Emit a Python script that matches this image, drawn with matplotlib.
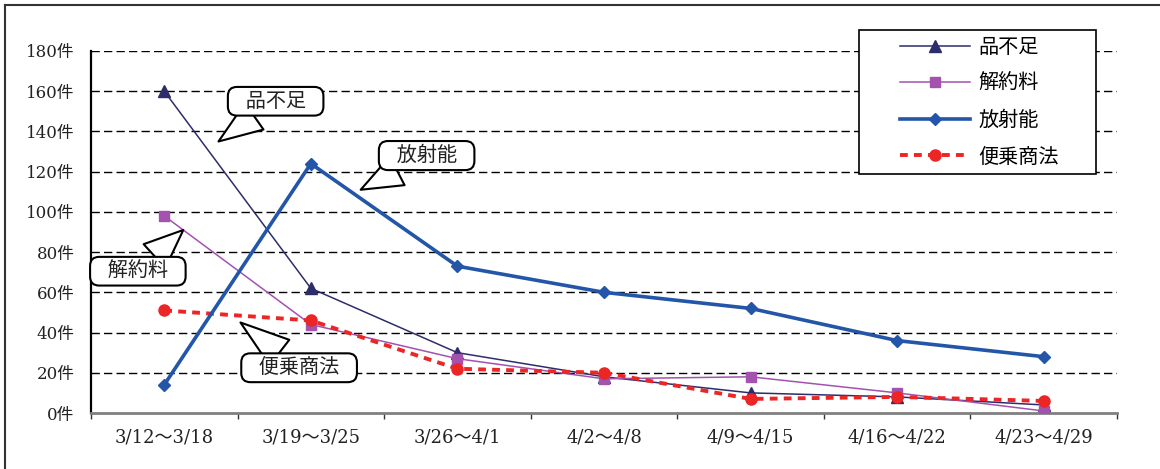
import matplotlib
matplotlib.use('Agg')
import matplotlib.pyplot as plt
from matplotlib.lines import Line2D
from matplotlib.patches import Rectangle

plt.rcParams['font.family'] = ['DejaVu Serif', 'Noto Sans CJK JP']

weeks = ['3/12～3/18', '3/19～3/25', '3/26～4/1', '4/2～4/8',
         '4/9～4/15', '4/16～4/22', '4/23～4/29']
shortage = [160, 62, 30, 18, 10, 8, 4]        # 品不足
cancel_fee = [98, 44, 27, 17, 18, 10, 1]      # 解約料
radiation = [14, 124, 73, 60, 52, 36, 28]     # 放射能
opportunist = [51, 46, 22, 20, 7, 8, 6]       # 便乗商法
yticks = list(range(0, 181, 20))

fig = plt.figure(figsize=(11.6, 4.69), dpi=100)
ax = fig.add_axes([0.0784, 0.1194, 0.963 - 0.0784, 0.8913 - 0.1194])

x = list(range(len(weeks)))
ax.plot(x, shortage, color='#2d2d6b', lw=1.1, marker='^', ms=8,
        label='品不足', zorder=4)
ax.plot(x, cancel_fee, color='#a352ad', lw=1.1, marker='s', ms=7,
        label='解約料', zorder=4)
ax.plot(x, radiation, color='#2356a8', lw=2.6, marker='D', ms=6.5,
        label='放射能', zorder=5)
ax.plot(x, opportunist, color='#ec2525', lw=2.8, ls=(0, (2.0, 1.6)),
        marker='o', ms=8, label='便乗商法', zorder=4)

# dashed grid
for v in yticks[1:]:
    ax.axhline(v, color='black', lw=1, ls=(0, (6, 3)), zorder=1)

ax.set_xlim(-0.5, len(weeks) - 0.5)
ax.set_ylim(0, 180)
ax.set_yticks(yticks)
ax.set_yticklabels([f'{v}件' for v in yticks], fontsize=12, color='#222222')
ax.set_xticks(x)
ax.set_xticklabels(weeks, fontsize=13, color='#222222')
ax.set_xticks([i - 0.5 for i in range(len(weeks) + 1)], minor=True)
ax.tick_params(axis='y', length=0, pad=12)
ax.tick_params(axis='x', which='major', length=0, pad=11)
ax.tick_params(axis='x', which='minor', length=4, width=1, color='#333333',
               direction='out')

for s in ['top', 'right']:
    ax.spines[s].set_visible(False)
ax.spines['left'].set_color('black')
ax.spines['left'].set_linewidth(1.6)
ax.spines['bottom'].set_color('#808080')
ax.spines['bottom'].set_linewidth(2)

# callouts
callouts = [
    ('品不足', (0.37, 135), (0.76, 155)),
    ('放射能', (1.34, 111), (1.79, 128)),
    ('解約料', (0.13, 91), (-0.18, 70.5)),
    ('便乗商法', (0.52, 45), (0.92, 22.5)),
]
for text, tip, box in callouts:
    ax.annotate('  ' + text + '  ', xy=tip, xytext=box, fontsize=14.5,
                ha='center', va='center', color='#222222',
                bbox=dict(boxstyle='round,pad=0.24,rounding_size=0.45',
                          fc='white', ec='black', lw=1.5),
                arrowprops=dict(arrowstyle='wedge,tail_width=1.6,shrink_factor=0.5',
                                fc='white', ec='black', lw=1.5, shrinkA=0,
                                shrinkB=0),
                zorder=6)

# legend with a fixed white frame
ax.add_patch(Rectangle((859 / 1160, 1 - 174 / 469), 237 / 1160, 144 / 469,
                       transform=fig.transFigure, fc='white', ec='black',
                       lw=1.2, clip_on=False, zorder=9))
leg = ax.legend(loc='upper left', bbox_to_anchor=(900 / 1160, 1 - 38 / 469),
                bbox_transform=fig.transFigure, fontsize=14.5, frameon=False,
                handlelength=3.5, labelspacing=0.86, borderpad=0,
                handletextpad=0.4, borderaxespad=0)
leg.set_zorder(10)

# outer frame
fig.add_artist(Line2D([0.0043, 1.0], [0.989, 0.989], color='#333333', lw=1.5,
                      transform=fig.transFigure))
fig.add_artist(Line2D([0.0043, 0.0043], [0.0, 0.989], color='#333333', lw=1.5,
                      transform=fig.transFigure))

fig.savefig('out.png', dpi=100)
